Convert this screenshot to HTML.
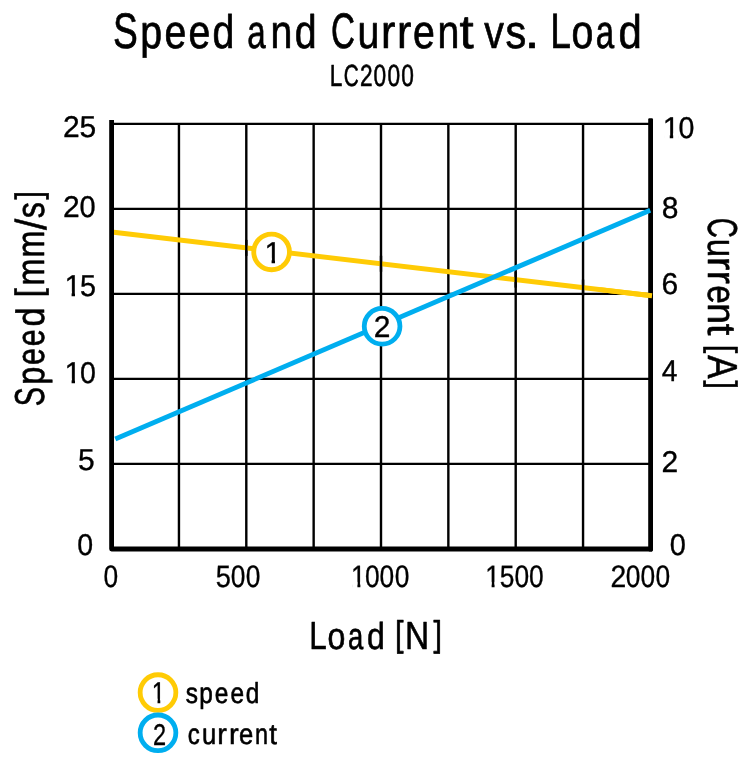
<!DOCTYPE html>
<html><head><meta charset="utf-8"><title>Speed and Current vs. Load</title>
<style>
html,body{margin:0;padding:0;background:#fff}
svg{display:block}
text{font-family:"Liberation Sans",Arial,Helvetica,sans-serif;fill:#000;stroke:#000;stroke-linejoin:round;white-space:pre;text-rendering:geometricPrecision}
</style></head><body>
<svg width="750" height="781" viewBox="0 0 750 781">
<rect width="750" height="781" fill="#fff"/>
<g stroke="#000" stroke-width="2.4" fill="none"><line x1="178.95" y1="123.90" x2="178.95" y2="548.90"/><line x1="246.30" y1="123.90" x2="246.30" y2="548.90"/><line x1="313.65" y1="123.90" x2="313.65" y2="548.90"/><line x1="381.00" y1="123.90" x2="381.00" y2="548.90"/><line x1="448.35" y1="123.90" x2="448.35" y2="548.90"/><line x1="515.70" y1="123.90" x2="515.70" y2="548.90"/><line x1="583.05" y1="123.90" x2="583.05" y2="548.90"/><line x1="111.60" y1="123.90" x2="650.40" y2="123.90"/><line x1="111.60" y1="208.90" x2="650.40" y2="208.90"/><line x1="111.60" y1="293.90" x2="650.40" y2="293.90"/><line x1="111.60" y1="378.90" x2="650.40" y2="378.90"/><line x1="111.60" y1="463.90" x2="650.40" y2="463.90"/></g>
<line x1="111.6" y1="232.0" x2="652.0" y2="295.7" stroke="#ffcb05" stroke-width="4.9"/>
<line x1="246.30" y1="239.88" x2="246.30" y2="255.88" stroke="#000" stroke-width="2.4"/>
<line x1="381.00" y1="255.76" x2="381.00" y2="271.76" stroke="#000" stroke-width="2.4"/>
<line x1="515.70" y1="271.63" x2="515.70" y2="287.63" stroke="#000" stroke-width="2.4"/>
<line x1="583.05" y1="279.57" x2="583.05" y2="295.57" stroke="#000" stroke-width="2.4"/>
<rect x="648.2" y="118.3" width="4.8" height="433.1" rx="1.1" fill="#000"/>
<path d="M111.60 120 V549.0 H652" stroke="#000" stroke-width="4.8" fill="none" stroke-linejoin="round"/>
<line x1="600" y1="289.57" x2="652.0" y2="295.7" stroke="#ffcb05" stroke-width="4.9"/>
<line x1="115.3" y1="439.0" x2="650.2" y2="210.2" stroke="#00aeef" stroke-width="4.9"/>
<circle cx="271.6" cy="251.9" r="17.85" fill="#fff" stroke="#ffcb05" stroke-width="4.8"/>
<circle cx="382.1" cy="326.3" r="17.85" fill="#fff" stroke="#00aeef" stroke-width="4.8"/>
<circle cx="158.0" cy="692.6" r="17.85" fill="#fff" stroke="#ffcb05" stroke-width="4.8"/>
<circle cx="158.0" cy="732.85" r="17.85" fill="#fff" stroke="#00aeef" stroke-width="4.8"/>
<g transform="translate(114.40,48.40) scale(0.8350,1.0)"><text font-size="47" stroke-width="0.7" x="-1.67 30.83 60.15 88.89 117.52 143.66 159.14 187.01 215.96 242.10 259.41 291.27 319.30 338.46 357.75 387.01 413.31 430.27 442.85 468.30 491.59 509.12 521.96 547.52 576.62 603.75"><tspan font-size="49.82" textLength="29.71" lengthAdjust="spacingAndGlyphs">S</tspan>peed <tspan textLength="22.06" lengthAdjust="spacingAndGlyphs">a</tspan>nd <tspan font-size="49.82" textLength="28.7" lengthAdjust="spacingAndGlyphs">C</tspan>u<tspan textLength="17.25" lengthAdjust="spacingAndGlyphs">r</tspan><tspan textLength="17.25" lengthAdjust="spacingAndGlyphs">r</tspan>en<tspan textLength="16.96" lengthAdjust="spacingAndGlyphs">t</tspan> v<tspan textLength="24.88" lengthAdjust="spacingAndGlyphs">s</tspan><tspan textLength="17.53" lengthAdjust="spacingAndGlyphs">.</tspan> <tspan font-size="49.82" textLength="24.8" lengthAdjust="spacingAndGlyphs">L</tspan>o<tspan textLength="22.06" lengthAdjust="spacingAndGlyphs">a</tspan><tspan textLength="27.87" lengthAdjust="spacingAndGlyphs">d</tspan></text></g>
<g transform="translate(331.10,85.60) scale(0.7421,1.0)"><text font-size="30.6" stroke-width="0.6" x="-1.91 17.21 38.99 57.12 75.98 94.65">L<tspan textLength="20.21" lengthAdjust="spacingAndGlyphs">C</tspan>2000</text></g>
<g transform="translate(311.60,649.30) scale(0.8555,1.0)"><text font-size="37.5" stroke-width="0.6" x="-2.72 18.56 42.65 64.68 85.54 97.57 109.04 142.51" y="0.00 0.00 0.00 0.00 0.00 -3.00 0.00 -3.00"><tspan font-size="39.19" textLength="20.47" lengthAdjust="spacingAndGlyphs">L</tspan>o<tspan textLength="17.83" lengthAdjust="spacingAndGlyphs">a</tspan>d <tspan font-size="35.8">[</tspan><tspan font-size="39.19">N</tspan><tspan font-size="35.8">]</tspan></text></g>
<g transform="translate(43.80,405.10) rotate(-90) scale(0.8205,1.0)"><text font-size="39.5" stroke-width="0.6" x="-1.29 24.77 48.95 71.85 95.93 119.16 131.53 145.70 179.89 213.28 227.84 250.44" y="0.00 0.00 0.00 0.00 0.00 0.00 -2.60 0.00 0.00 2.60 0.00 -2.60"><tspan font-size="41.87" textLength="23.31" lengthAdjust="spacingAndGlyphs">S</tspan>p<tspan textLength="20.52" lengthAdjust="spacingAndGlyphs">e</tspan><tspan textLength="20.67" lengthAdjust="spacingAndGlyphs">e</tspan><tspan textLength="23.22" lengthAdjust="spacingAndGlyphs">d</tspan> <tspan font-size="36.7" textLength="11.09" lengthAdjust="spacingAndGlyphs">[</tspan>mm<tspan font-size="43.2" textLength="13.8" lengthAdjust="spacingAndGlyphs">/</tspan>s<tspan font-size="36.7">]</tspan></text></g>
<g transform="translate(708.20,218.80) rotate(90) scale(0.8361,1.0)"><text font-size="39.5" stroke-width="0.6" x="-1.39 23.85 45.62 62.01 79.35 101.06 125.60 139.52 150.65 163.22 193.52" y="0.00 0.00 0.00 0.00 0.00 0.00 0.00 0.00 -2.60 0.00 -2.60"><tspan font-size="41.87" textLength="24.0" lengthAdjust="spacingAndGlyphs">C</tspan>u<tspan textLength="15.61" lengthAdjust="spacingAndGlyphs">r</tspan><tspan textLength="15.61" lengthAdjust="spacingAndGlyphs">r</tspan>e<tspan textLength="24.58" lengthAdjust="spacingAndGlyphs">n</tspan><tspan textLength="13.92" lengthAdjust="spacingAndGlyphs">t</tspan> <tspan font-size="36.7">[</tspan><tspan font-size="41.87">A</tspan><tspan font-size="36.7">]</tspan></text></g>
<g transform="translate(186.20,703.20) scale(0.8430,1.0)"><text font-size="29.0" stroke-width="0.6" x="-0.55 15.39 33.96 52.46 70.73">speed</text></g>
<g transform="translate(188.50,744.20) scale(0.8824,1.0)"><text font-size="29.0" stroke-width="0.6" x="-0.86 15.42 32.59 45.82 57.30 75.37 91.62"><tspan textLength="13.63" lengthAdjust="spacingAndGlyphs">c</tspan>u<tspan textLength="10.82" lengthAdjust="spacingAndGlyphs">r</tspan><tspan textLength="10.98" lengthAdjust="spacingAndGlyphs">r</tspan>e<tspan textLength="14.79" lengthAdjust="spacingAndGlyphs">n</tspan><tspan textLength="8.72" lengthAdjust="spacingAndGlyphs">t</tspan></text></g>
<g transform="translate(64.20,137.00) scale(1.0000,1.0)"><text font-size="30.0" stroke-width="0.35" x="-1.14 15.29">25</text></g>
<g transform="translate(64.20,217.10) scale(1.0000,1.0)"><text font-size="30.0" stroke-width="0.35" x="-1.24 15.24">2<tspan textLength="16.11" lengthAdjust="spacingAndGlyphs">0</tspan></text></g>
<g transform="translate(66.00,296.10) scale(1.0000,1.0)"><text font-size="30.0" stroke-width="0.35" x="-1.57 14.02">1<tspan textLength="16.01" lengthAdjust="spacingAndGlyphs">5</tspan></text><rect x="-0.11" y="-4.62" width="5.70" height="6.99" fill="#fff"/><rect x="9.00" y="-4.62" width="5.54" height="6.99" fill="#fff"/></g>
<g transform="translate(66.00,383.00) scale(1.0000,1.0)"><text font-size="30.0" stroke-width="0.35" x="-1.57 14.06">1<tspan textLength="15.88" lengthAdjust="spacingAndGlyphs">0</tspan></text><rect x="-0.11" y="-4.62" width="5.70" height="6.99" fill="#fff"/><rect x="9.00" y="-4.62" width="5.54" height="6.99" fill="#fff"/></g>
<g transform="translate(79.20,469.60) scale(1.0000,1.0)"><text font-size="30.0" stroke-width="0.35" x="-1.11">5</text></g>
<g transform="translate(78.20,554.80) scale(1.0000,1.0)"><text font-size="30.0" stroke-width="0.35" x="-0.94"><tspan textLength="15.88" lengthAdjust="spacingAndGlyphs">0</tspan></text></g>
<g transform="translate(664.80,138.00) scale(1.0000,1.0)"><text font-size="30.0" stroke-width="0.35" x="-2.17 13.66">1<tspan textLength="15.88" lengthAdjust="spacingAndGlyphs">0</tspan></text><rect x="-0.71" y="-4.62" width="5.70" height="6.99" fill="#fff"/><rect x="8.40" y="-4.62" width="5.54" height="6.99" fill="#fff"/></g>
<g transform="translate(663.00,217.80) scale(1.0000,1.0)"><text font-size="30.0" stroke-width="0.35" x="-1.34">8</text></g>
<g transform="translate(662.80,294.30) scale(1.0000,1.0)"><text font-size="30.0" stroke-width="0.35" x="-1.34">6</text></g>
<g transform="translate(662.20,380.50) scale(1.0000,1.0)"><text font-size="30.0" stroke-width="0.35" x="-0.47"><tspan textLength="15.73" lengthAdjust="spacingAndGlyphs">4</tspan></text></g>
<g transform="translate(662.80,472.10) scale(1.0000,1.0)"><text font-size="30.0" stroke-width="0.35" x="-1.24">2</text></g>
<g transform="translate(670.60,554.50) scale(1.0000,1.0)"><text font-size="30.0" stroke-width="0.35" x="-0.96"><tspan textLength="16.11" lengthAdjust="spacingAndGlyphs">0</tspan></text></g>
<g transform="translate(104.40,586.55) scale(0.8500,1.0)"><text font-size="31.0" stroke-width="0.35" x="-1.03">0</text></g>
<g transform="translate(216.60,586.55) scale(0.8500,1.0)"><text font-size="31.0" stroke-width="0.35" x="-1.11 16.73 34.26"><tspan textLength="17.81" lengthAdjust="spacingAndGlyphs">5</tspan>00</text></g>
<g transform="translate(352.70,586.55) scale(0.8500,1.0)"><text font-size="31.0" stroke-width="0.35" x="-1.89 14.38 31.61 49.44">1000</text><rect x="-0.37" y="-4.69" width="5.91" height="7.07" fill="#fff"/><rect x="9.02" y="-4.69" width="5.74" height="7.07" fill="#fff"/></g>
<g transform="translate(486.90,586.55) scale(0.8500,1.0)"><text font-size="31.0" stroke-width="0.35" x="-1.89 15.00 32.44 49.67">1500</text><rect x="-0.37" y="-4.69" width="5.91" height="7.07" fill="#fff"/><rect x="9.02" y="-4.69" width="5.74" height="7.07" fill="#fff"/></g>
<g transform="translate(611.70,586.55) scale(0.8500,1.0)"><text font-size="31.0" stroke-width="0.35" x="-1.50 16.44 33.91 51.44"><tspan textLength="18.53" lengthAdjust="spacingAndGlyphs">2</tspan>000</text></g>
<g transform="translate(266.40,262.50) scale(1.0000,1.0)"><text font-size="30.0" stroke-width="0.35" x="-1.97">1</text><rect x="-0.51" y="-4.62" width="5.70" height="6.99" fill="#fff"/><rect x="8.60" y="-4.62" width="5.54" height="6.99" fill="#fff"/></g>
<g transform="translate(375.10,336.90) scale(1.0000,1.0)"><text font-size="30.0" stroke-width="0.35" x="-1.44">2</text></g>
<g transform="translate(153.30,703.30) scale(0.8000,1.0)"><text font-size="30.0" stroke-width="0.35" x="-1.87">1</text><rect x="-0.41" y="-4.62" width="5.70" height="6.99" fill="#fff"/><rect x="8.70" y="-4.62" width="5.54" height="6.99" fill="#fff"/></g>
<g transform="translate(154.10,744.70) scale(0.7848,1.0)"><text font-size="30.0" stroke-width="0.35" x="-1.33">2</text></g>
</svg>
</body></html>
